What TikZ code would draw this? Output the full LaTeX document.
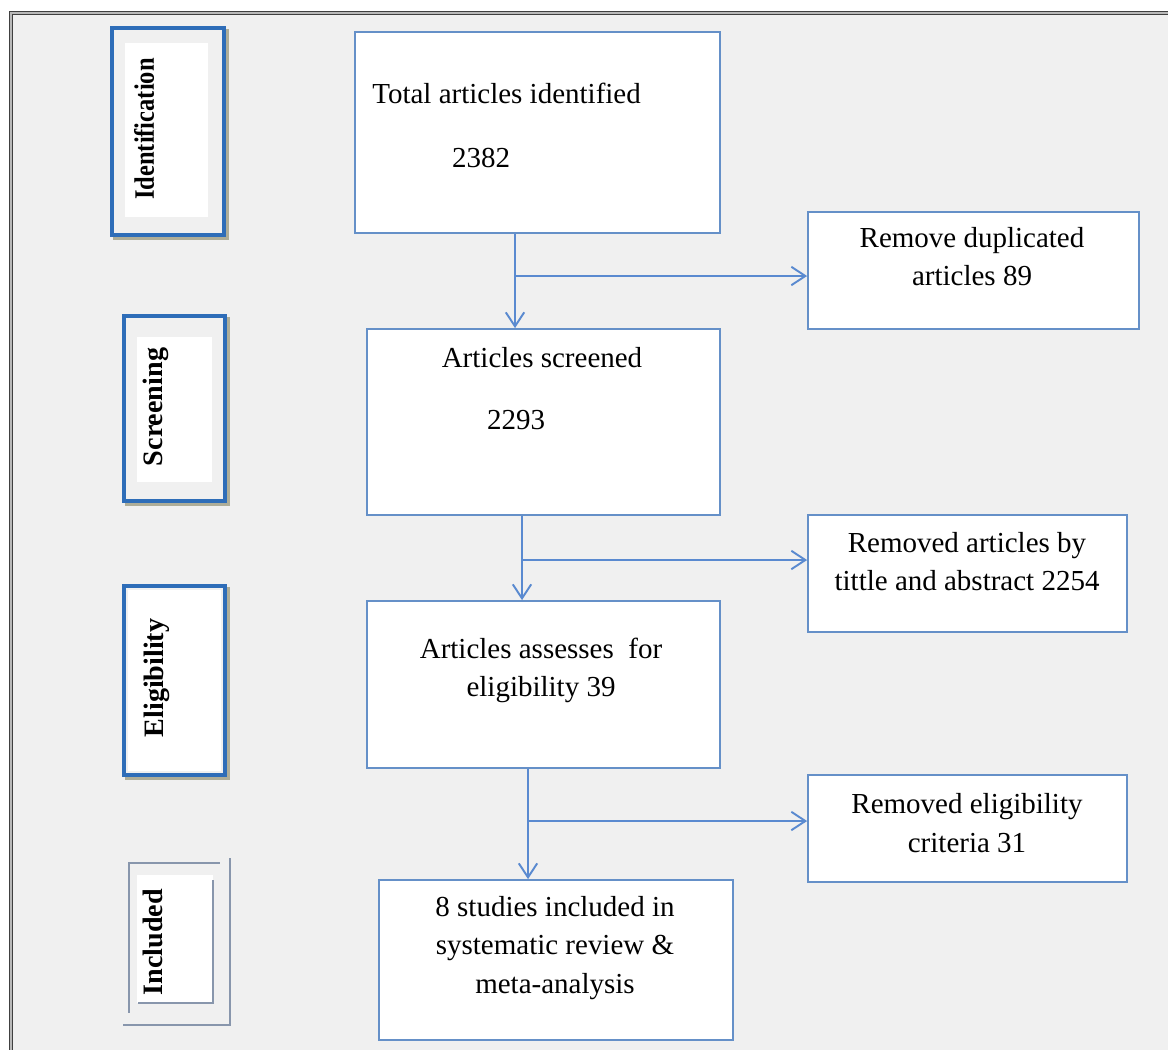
\documentclass[tikz,border=0pt]{standalone}
\usepackage{fontspec}
\setmainfont{Liberation Serif}
\usetikzlibrary{arrows.meta,fit}
\definecolor{FrameBg}{HTML}{F0F0F0}
\definecolor{FrameLine}{HTML}{404040}
\definecolor{BoxBlue}{HTML}{6590C8}
\definecolor{LinkBlue}{HTML}{5A8AD0}
\definecolor{StageBlue}{HTML}{2E6DB8}
\definecolor{StageShade}{HTML}{AEAD98}
\definecolor{StageGray}{HTML}{8896AC}

\begin{document}
\begin{tikzpicture}[x=0.02cm,y=-0.02cm,
  box/.style={draw=BoxBlue,line width=1pt,fill=white,inner sep=0pt},
  txt/.style={font=\fontsize{16.5}{21.7}\selectfont,align=center,inner sep=0pt},
  stage/.style={font=\fontsize{16}{19}\selectfont\bfseries,rotate=90,inner sep=0pt},
  link/.style={draw=LinkBlue,line width=1.1pt},
  arr/.style={link,-{Straight Barb[length=8pt,width=10.5pt]}}]
  \useasboundingbox (0,0) rectangle (1168,1049);
  \fill[white] (0,0) rectangle (1168,1049);
  % frame
  \draw[FrameLine,fill=FrameBg,line width=0.8pt,double=gray!55,double distance=0.7pt]
    (11,13) rectangle (1200,1080);

  % stage labels
  \draw[StageShade,fill=StageShade,line width=2.8pt] (115,31) rectangle (227,238);
  \draw[StageBlue,fill=FrameBg,line width=2.8pt] (112,28) rectangle (224,235);
  \fill[white] (125,43) rectangle (208,217);
  \node[stage] (sid) at (144,129) {\scalebox{0.87}[1]{Identification}};

  \draw[StageShade,fill=StageShade,line width=2.8pt] (127,319) rectangle (228,504);
  \draw[StageBlue,fill=FrameBg,line width=2.8pt] (124,316) rectangle (225,501);
  \fill[white] (137,337) rectangle (212,482);
  \node[stage] (sscr) at (156,407) {Screening};

  \draw[StageShade,fill=StageShade,line width=2.8pt] (127,589) rectangle (228,778);
  \draw[StageBlue,fill=FrameBg,line width=2.8pt] (124,586) rectangle (225,775);
  \fill[white] (128,590) rectangle (221,771);
  \node[stage] (selg) at (157,678) {Eligibility};

  \fill[white] (137,875) rectangle (213,1003);
  \draw[StageGray,line width=1.4pt] (128,863) -- (220,863);
  \draw[StageGray,line width=1.4pt] (129,863) -- (129,1013);
  \draw[StageGray,line width=1.4pt] (230,858) -- (230,1026);
  \draw[StageGray,line width=1.4pt] (123,1025) -- (231,1025);
  \draw[StageGray,line width=1.4pt] (213,880) -- (213,1003);
  \draw[StageGray,line width=1.4pt] (138,1003) -- (214,1003);
  \node[stage] (sinc) at (153,942) {Included};

  % boxes
  \node[box,fit={(355,32) (720,233)}] (b1) {};
  \node[box,fit={(808,212) (1139,329)}] (b2) {};
  \node[box,fit={(367,329) (720,515)}] (b3) {};
  \node[box,fit={(808,515) (1127,632)}] (b4) {};
  \node[box,fit={(367,601) (720,768)}] (b5) {};
  \node[box,fit={(808,775) (1127,882)}] (b6) {};
  \node[box,fit={(379,880) (733,1040)}] (b7) {};

  \node[txt,anchor=west] (t1) at (372,93) {Total articles identified};
  \node[txt] (n1) at (481,158) {2382};
  \node[txt] (t2) at (972,257) {Remove duplicated\\articles 89};
  \node[txt] (t3) at (542,358) {Articles screened};
  \node[txt] (n3) at (516,420) {2293};
  \node[txt] (t4) at (967,562) {Removed articles by\\tittle and abstract 2254};
  \node[txt] (t5) at (541,670) {Articles assesses\ \ for\\eligibility 39};
  \node[txt] (t6) at (967,823) {Removed eligibility\\criteria 31};
  \node[txt] (t7) at (555,948) {8 studies included in\\systematic review \&\\meta-analysis};

  % connectors
  \coordinate (j1) at (515,276);
  \draw[arr] (j1 |- b1.south) -- (j1 |- b3.north);
  \draw[arr] (j1) -- (j1 -| b2.west);
  \coordinate (j2) at (522,560);
  \draw[arr] (j2 |- b3.south) -- (j2 |- b5.north);
  \draw[arr] (j2) -- (j2 -| b4.west);
  \coordinate (j3) at (528,821);
  \draw[arr] (j3 |- b5.south) -- (j3 |- b7.north);
  \draw[arr] (j3) -- (j3 -| b6.west);
\end{tikzpicture}
\end{document}
